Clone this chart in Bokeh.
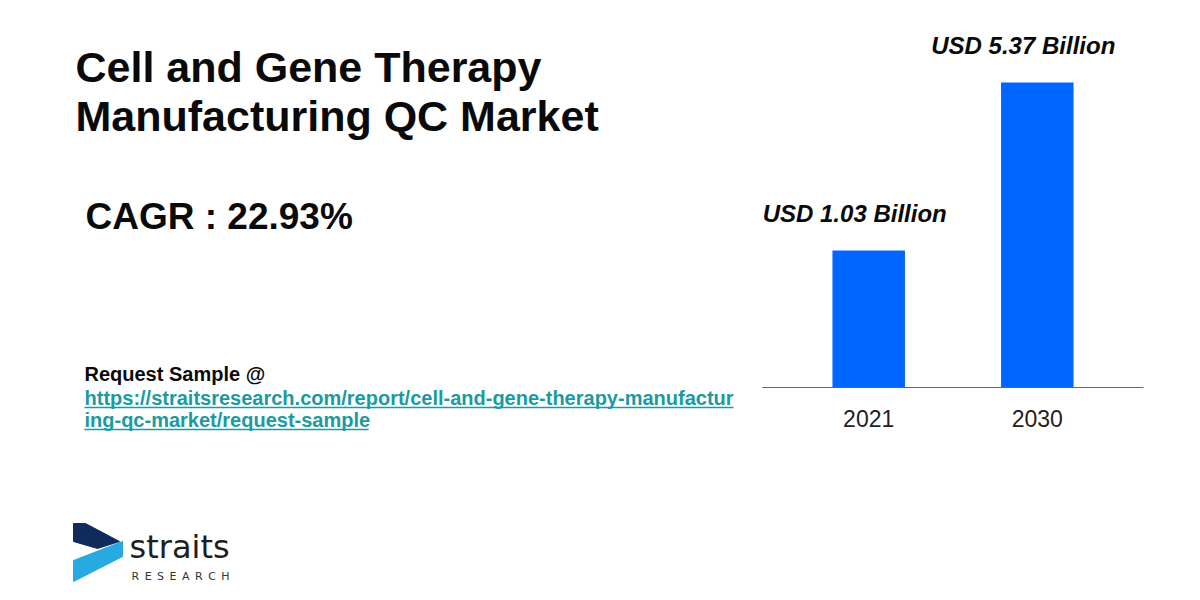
from bokeh.plotting import figure
from bokeh.models import ColumnDataSource, Range1d, FactorRange, LabelSet, Label
from bokeh.layouts import row
from bokeh.embed import file_html
from bokeh.resources import INLINE
from bokeh.core.properties import value

# ---- data ----
years = ["2021", "2030"]
market_size = [1.03, 5.37]          # USD billion
bar_labels = [f"USD {v:.2f} Billion" for v in market_size]
title_lines = ["Cell and Gene Therapy", "Manufacturing QC Market"]
cagr_text = ["CAGR : 22.93%"]
request_label = ["Request Sample @"]
link_lines = ["https://straitsresearch.com/report/cell-and-gene-therapy-manufactur",
              "ing-qc-market/request-sample"]
brand = ["straits"]
brand_sub = ["\u2002".join("RESEARCH")]

FONT = "Liberation Sans"
BASE = -2.51   # baseline of the infographic's (non-zero) value scale
TOP = 7.49
H = 600


def fy(ys):
    """layout positions are measured from the top of the page"""
    return [H - y for y in ys]


def add_texts(fig, xs, ys, texts, size, **style):
    for x, y, t in zip(xs, fy(ys), texts):
        fig.add_layout(Label(x=x, y=y, text=t, text_baseline="alphabetic",
                             text_align="left", text_font_size=f"{size}px",
                             y_offset=round(0.3 * size), **style))


# ---- left panel: titles, link and logo ----
left = figure(width=740, height=H, x_range=Range1d(0, 740), y_range=Range1d(0, H),
              output_backend="svg", toolbar_location=None,
              x_axis_location=None, y_axis_location=None, min_border=0)
left.title = None
left.frame_align = False
left.outline_line_color = None
left.xgrid.visible = False
left.ygrid.visible = False

add_texts(left, [75, 75], [79, 128], title_lines, 43, text_font=FONT,
          text_font_style="bold", text_color="#0A0A0A")
add_texts(left, [85], [227], cagr_text, 37, text_font=FONT,
          text_font_style="bold", text_color="#0A0A0A")
add_texts(left, [84], [379], request_label, 20, text_font=FONT,
          text_font_style="bold", text_color="#0A0A0A")
add_texts(left, [84, 84], [403, 425], link_lines, 20, text_font=FONT,
          text_font_style="bold", text_color="#1C9AA0")
left.segment(x0=[84, 84], y0=fy([407, 429]), x1=[733, 368], y1=fy([407, 429]),
             line_color="#1C9AA0", line_width=1.5)

# logo
left.patch(x=[73, 122, 122, 73], y=fy([560, 541, 556, 581]), color="#27A9E1")
left.patch(x=[73, 85, 119, 97, 73], y=fy([523, 523, 541, 548, 541]), color="#0E2B5C")
add_texts(left, [129], [556], brand, 32, text_font="DejaVu Sans",
          text_color="#1E1E1E")
add_texts(left, [131], [579], brand_sub, 11, text_font="DejaVu Sans",
          text_color="#333333")

# ---- right panel: bar chart ----
src = ColumnDataSource(dict(years=years, values=market_size, labels=bar_labels))

right = figure(width=460, height=H,
               x_range=FactorRange(factors=years, range_padding=0.13),
               y_range=Range1d(BASE, TOP),
               output_backend="svg", toolbar_location=None, y_axis_location=None,
               min_border_left=22, min_border_right=57, min_border_top=0,
               min_border_bottom=213)
right.title = None
right.frame_align = False
right.outline_line_color = None
right.xgrid.visible = False
right.ygrid.visible = False

right.vbar(x="years", top="values", bottom=BASE, width=0.43, source=src,
           fill_color="#0066FF", line_color=None)

labels = LabelSet(x="years", y="values", text="labels", source=src,
                  x_offset=-14, y_offset=29, text_align="center",
                  text_baseline="alphabetic", text_font=value(FONT),
                  text_font_style="bold italic", text_font_size="24px",
                  text_color="#0A0A0A")
right.add_layout(labels)

ax = right.xaxis[0]
ax.axis_line_color = "#666666"
ax.axis_line_width = 1
ax.major_tick_line_color = None
ax.minor_tick_line_color = None
ax.major_label_text_font = FONT
ax.major_label_text_font_size = "23px"
ax.major_label_text_color = "#222222"
ax.major_label_standoff = 16

layout = row(left, right)

html = file_html(layout, INLINE)
html = html.replace("<body>", '<body style="margin:0;padding:0;">', 1)
open("out.html", "w").write(html)
